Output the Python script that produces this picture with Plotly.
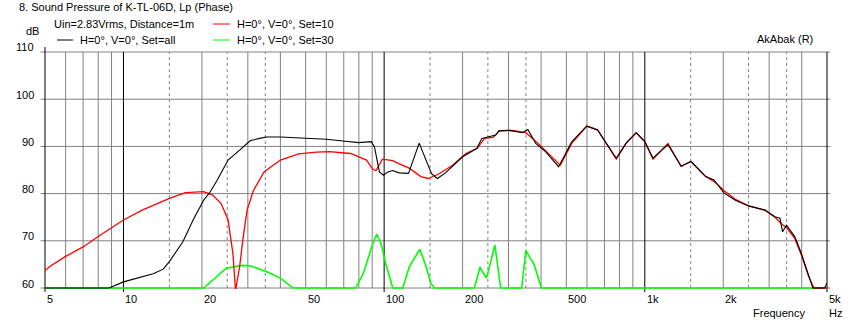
import math
import plotly.graph_objects as go

# ---------------- data ----------------
freq_all = [5, 8.8, 10, 12, 13, 14.2, 15, 16.9, 18.5, 20.3, 21.4, 22.9, 25.2, 27.9, 30.6, 33.3,
            35.3, 40, 50, 60, 71, 80, 89.3, 91.8, 94.5, 95.9, 99.4, 103.3, 107.9, 114, 124,
            136.3, 152, 160, 172, 200, 227, 237, 268, 276, 302, 339, 356, 381, 416, 467, 525,
            599, 659, 777, 848, 927, 1000, 1075, 1227, 1378, 1503, 1714, 1843, 2015, 2227,
            2499, 2892, 3156, 3300, 3376, 3497, 3760, 3987, 4227, 4410, 4900, 5000]
spl_all = [60, 60, 61.3, 62.5, 63.0, 64.0, 65.6, 69.8, 74.4, 78.6, 80.2, 82.9, 87.1, 89.2, 91.2, 91.7,
           92.0, 92.0, 91.7, 91.5, 91.1, 90.8, 91.0, 89.9, 86.4, 84.6, 83.9, 84.6, 84.9, 84.4, 84.3,
           90.7, 84.2, 83.2, 84.4, 87.8, 89.6, 91.7, 92.4, 93.3, 93.4, 92.9, 93.6, 90.7, 88.9, 85.7, 91.0,
           94.3, 93.5, 87.5, 90.7, 92.9, 91.0, 87.5, 90.4, 85.8, 86.8, 83.6, 82.9, 80.1, 78.6,
           77.4, 76.5, 75.1, 74.8, 71.9, 73.3, 70.9, 67.3, 63.1, 60, 60, 61]

freq_10 = [5, 5.2, 5.95, 7, 8, 10, 11.8, 15, 17.3, 20.3, 22, 23.7, 25.2, 26.3, 26.9, 27.9, 28.7,
           29.8, 31.5, 34.6, 40, 46.9, 55, 61.8, 74.4, 85.6, 90.6, 93.1, 98.5, 107.9, 114.4,
           124.8, 138.3, 147.5, 162.4, 183, 206, 227.6, 243, 262, 276, 311, 349.5, 387, 432,
           474, 525, 599, 659, 777, 848, 927, 1000, 1075, 1227, 1378, 1503, 1714, 1843, 2015,
           2227, 2499, 2892, 3156, 3376, 3497, 3760, 3987, 4227, 4450, 5000]
spl_10 = [63.7, 64.5, 66.6, 68.7, 70.9, 74.4, 76.5, 79.0, 80.2, 80.4, 79.7, 77.9, 74.4, 67.3, 59.5, 64.5, 70.2,
          76.5, 80.6, 84.6, 87.1, 88.4, 88.8, 88.9, 88.5, 87.1, 85.1, 84.9, 87.3, 87.0, 86.3,
          85.4, 83.6, 83.2, 84.2, 86.0, 88.5, 89.6, 91.7, 91.9, 93.3, 93.4, 92.9, 90.8, 88.2,
          86.0, 90.7, 94.3, 93.5, 87.3, 90.7, 92.9, 91.0, 87.3, 90.6, 85.8, 86.8, 83.6, 82.6, 80.6,
          78.8, 77.4, 76.5, 75.0, 73.4, 72.8, 70.5, 67.0, 62.8, 60, 60]

freq_30 = [5, 20.3, 24.8, 28.5, 30.6, 33.3, 35.3, 40, 44.8, 77.7, 83.2, 90.6, 93.6, 97.2, 101.4,
           107.9, 118, 124.8, 131, 137, 145, 151, 156, 222, 233, 247, 266, 272, 280, 337,
           349.5, 362, 375, 401, 5000]
spl_30 = [60, 60, 64.2, 64.8, 64.7, 64.0, 63.5, 62.1, 60, 60, 63.1, 69.5, 71.4, 69.5, 65.2,
          60, 60, 64.5, 66.5, 68.2, 64.5, 61, 60, 60, 64.4, 62.1, 69.1, 65.2, 60, 60,
          67.9, 66.5, 65.2, 60, 60]

y_ticks = [60, 70, 80, 90, 100, 110]
x_tick_vals = [5, 10, 20, 50, 100, 200, 500, 1000, 2000, 5000]
x_tick_text = ["5", "10", "20", "50", "100", "200", "500", "1k", "2k", "5k"]
grid_major = [5, 10, 100, 1000, 5000]
grid_solid = [6, 7, 8, 9, 20, 30, 40, 50, 60, 70, 80, 90,
              200, 300, 400, 500, 600, 700, 800, 900, 2000, 3000, 4000]
grid_dashed = [15, 25, 35, 150, 250, 350, 1500, 2500, 3500]

# ---------------- layout helpers ----------------
W, H = 854, 325
L, R, T, B = 45, 27, 52, 36
YMIN, YMAX = 59.79, 110
XMIN, XMAX = math.log10(5), math.log10(5000)
FONT = "Liberation Sans, Arial, sans-serif"


def ax(px):
    return (px - L) / (W - L - R)


def ay(py):
    return (H - B - py) / (H - T - B)


def fx(f):
    return (math.log10(f) - XMIN) / (XMAX - XMIN)


def vy(v):
    return (v - YMIN) / (YMAX - YMIN)


fig = go.Figure()
fig.add_trace(go.Scatter(x=freq_30, y=spl_30, mode="lines",
                         line=dict(color="#00FF00", width=1.6), hoverinfo="skip"))
fig.add_trace(go.Scatter(x=freq_10, y=spl_10, mode="lines",
                         line=dict(color="#FF0000", width=1.3), hoverinfo="skip"))
fig.add_trace(go.Scatter(x=freq_all, y=spl_all, mode="lines",
                         line=dict(color="#000000", width=1.1), hoverinfo="skip"))

shapes = []
px_per = 1 / (H - T - B)
# horizontal gridlines
for v in y_ticks:
    shapes.append(dict(type="line", xref="paper", yref="paper", x0=ax(40.5), x1=ax(830),
                       y0=vy(v), y1=vy(v), line=dict(color="#808080", width=1), layer="below"))
for f in grid_solid:
    shapes.append(dict(type="line", xref="paper", yref="paper", x0=fx(f), x1=fx(f),
                       y0=vy(60), y1=vy(110), line=dict(color="#808080", width=1), layer="below"))
for f in grid_dashed:
    shapes.append(dict(type="line", xref="paper", yref="paper", x0=fx(f), x1=fx(f),
                       y0=vy(60), y1=vy(110),
                       line=dict(color="#808080", width=1, dash="3px,3px"), layer="below"))
for f in grid_major:
    top = vy(110) + (5 * px_per if f == 5 else 0)
    shapes.append(dict(type="line", xref="paper", yref="paper", x0=fx(f), x1=fx(f),
                       y0=vy(60) - 4 * px_per, y1=top,
                       line=dict(color="#000000", width=1), layer="below"))

# legend samples
shapes.append(dict(type="line", xref="paper", yref="paper", x0=ax(57), x1=ax(73),
                   y0=ay(40), y1=ay(40), line=dict(color="#000000", width=1)))
shapes.append(dict(type="line", xref="paper", yref="paper", x0=ax(213), x1=ax(230),
                   y0=ay(24), y1=ay(24), line=dict(color="#FF0000", width=1)))
shapes.append(dict(type="line", xref="paper", yref="paper", x0=ax(213), x1=ax(230),
                   y0=ay(40), y1=ay(40), line=dict(color="#00FF00", width=1)))

annotations = []


def txt(text, x, y, xanchor="left"):
    annotations.append(dict(text=text, x=x, y=y, xref="paper", yref="paper",
                            xanchor=xanchor, yanchor="middle", showarrow=False,
                            borderpad=0, font=dict(family=FONT, size=11, color="#000000")))


txt("8. Sound Pressure of K-TL-06D, Lp (Phase)", ax(18), ay(7))
txt("Uin=2.83Vrms, Distance=1m", ax(53), ay(24))
txt("dB", ax(25), ay(31))
txt("H=0°, V=0°, Set=all", ax(79), ay(40))
txt("H=0°, V=0°, Set=10", ax(236), ay(24))
txt("H=0°, V=0°, Set=30", ax(236), ay(40))
txt("AkAbak (R)", ax(756), ay(39))
txt("Frequency", ax(752), ay(313))
txt("Hz", ax(828), ay(313))
for v in y_ticks:
    txt(str(v), ax(35), vy(v) + 4.5 * px_per, xanchor="right")
for f, t in zip(x_tick_vals, x_tick_text):
    txt(t, fx(f) + 1 / (W - L - R), ay(299))

fig.update_layout(
    width=W, height=H,
    margin=dict(l=L, r=R, t=T, b=B, pad=0),
    paper_bgcolor="white", plot_bgcolor="white",
    showlegend=False,
    xaxis=dict(type="log", range=[XMIN, XMAX], showgrid=False, zeroline=False,
               showticklabels=False, ticks="", showline=False, fixedrange=True),
    yaxis=dict(range=[YMIN, YMAX], showgrid=False, zeroline=False,
               showticklabels=False, ticks="", showline=False, fixedrange=True),
    shapes=shapes,
    annotations=annotations,
)

fig.write_html("out.html",
               config={"displayModeBar": False, "staticPlot": True},
               post_script="document.body.style.margin='0px';document.body.style.overflow='hidden';")
